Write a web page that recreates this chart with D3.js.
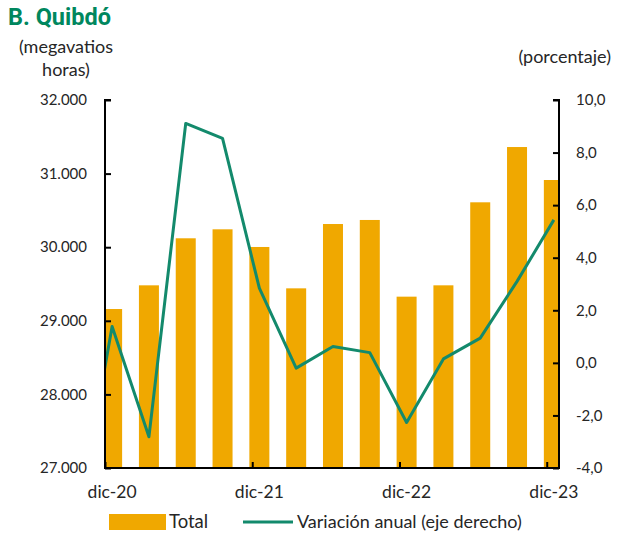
<!DOCTYPE html>
<html>
<head>
<meta charset="utf-8">
<script src="https://cdn.jsdelivr.net/npm/d3@7"></script>
<style>
  html, body { margin: 0; padding: 0; background: #fff; }
  svg { display: block; }
  text { font-family: Lato, "Open Sans", sans-serif; fill: #262626; }
</style>
</head>
<body>
<svg id="chart" width="621" height="536"></svg>
<script>
// ---- data ----
const categories = ["sep-20","dic-20","mar-21","jun-21","sep-21","dic-21","mar-22","jun-22","sep-22","dic-22","mar-23","jun-23","sep-23","dic-23"];
const monthIndex = [-3,0,3,6,9,12,15,18,21,24,27,30,33,36]; // months since dic-20
const totals = [null,29160,29482,30121,30243,30003,29441,30315,30370,29328,29482,30610,31361,30913];
const variation = [-6.5,1.38,-2.81,9.11,8.54,2.84,-0.2,0.62,0.39,-2.27,0.15,0.94,3.1,5.44];
const leftTicks = [27000,28000,29000,30000,31000,32000];
const rightTicks = [-4,-2,0,2,4,6,8,10];
const xTickMonths = [0,12,24,36];
const xTickLabels = ["dic-20","dic-21","dic-22","dic-23"];

const title = "B. Quibdó";
const leftUnit = ["(megavatios","horas)"];
const rightUnit = "(porcentaje)";
const legendLabels = ["Total","Variación anual (eje derecho)"];

const barColor = "#F0A800";
const lineColor = "#138A6C";

// ---- layout ----
const svg = d3.select("#chart");
const L = 105, R = 559, T = 100, B = 468;
const barOffset = 0.58, barW = 20;

const x = d3.scaleLinear().domain([0, 37]).range([L, R]);
const yL = d3.scaleLinear().domain([27000, 32000]).range([B, T]);
const yR = d3.scaleLinear().domain([-4, 10]).range([B, T]);

svg.append("defs").append("clipPath").attr("id","plot")
  .append("rect").attr("x", L).attr("y", 0).attr("width", R - L).attr("height", B);

const plot = svg.append("g").attr("clip-path","url(#plot)");

const data = categories.map((c,i) => ({c, m: monthIndex[i], t: totals[i], v: variation[i]}));

plot.selectAll("rect.bar").data(data.filter(d => d.t != null)).join("rect")
  .attr("class","bar")
  .attr("x", d => x(d.m + barOffset) - barW/2)
  .attr("width", barW)
  .attr("y", d => yL(d.t))
  .attr("height", d => B - yL(d.t))
  .attr("fill", barColor);

plot.append("path").datum(data)
  .attr("fill","none").attr("stroke", lineColor).attr("stroke-width", 3)
  .attr("stroke-linejoin","round")
  .attr("d", d3.line().x(d => x(d.m + barOffset)).y(d => yR(d.v)));

// ---- axes ----
const axL = svg.append("g").attr("transform", `translate(${L},0)`)
  .call(d3.axisRight(yL).tickValues(leftTicks).tickSize(6).tickFormat(() => ""));
const axR = svg.append("g").attr("transform", `translate(${R},0)`)
  .call(d3.axisLeft(yR).tickValues(rightTicks).tickSize(6).tickFormat(() => ""));
const axB = svg.append("g").attr("transform", `translate(0,${B})`)
  .call(d3.axisTop(x).tickValues(xTickMonths).tickSize(6).tickFormat(() => ""));
[axL, axR, axB].forEach(g => {
  g.selectAll("path.domain").attr("stroke","#000").attr("stroke-width",2);
  g.selectAll(".tick line").attr("stroke","#000").attr("stroke-width",2);
});
axL.select("path.domain").attr("d", `M6,${T}H0V${B+1}`);
axR.select("path.domain").attr("d", `M-6,${T}H0V${B+1}`);
axB.select("path.domain").attr("d", `M${L},0H${R}`);

const loc = d3.formatLocale({decimal: ",", thousands: ".", grouping: [3], currency: ["",""], minus: "-"});
const fmtL = loc.format(",.0f");
const fmtR = loc.format(".1f");

svg.append("g").selectAll("text").data(leftTicks).join("text")
  .attr("x", 87).attr("y", d => yL(d)).attr("dy","0.35em")
  .attr("text-anchor","end").attr("font-size", 15).text(d => fmtL(d));
svg.append("g").selectAll("text").data(rightTicks).join("text")
  .attr("x", 576).attr("y", d => yR(d)).attr("dy","0.35em")
  .attr("text-anchor","start").attr("font-size", 15).text(d => fmtR(d));
svg.append("g").selectAll("text").data(xTickMonths).join("text")
  .attr("x", d => x(d + barOffset)).attr("y", 498)
  .attr("text-anchor","middle").attr("font-size", 17.5).text((d,i) => xTickLabels[i]);

// ---- titles ----
svg.append("text").attr("x", 8).attr("y", 25)
  .style("font-family", '"Liberation Sans Narrow", "Roboto", sans-serif')
  .style("font-weight", "bold").style("fill", "#00875E")
  .attr("font-size", 23.5).text(title);
svg.append("text").attr("x", 66).attr("y", 53).attr("text-anchor","middle")
  .attr("font-size", 18).text(leftUnit[0]);
svg.append("text").attr("x", 66).attr("y", 76).attr("text-anchor","middle")
  .attr("font-size", 18).text(leftUnit[1]);
svg.append("text").attr("x", 611).attr("y", 63).attr("text-anchor","end")
  .attr("font-size", 18).text(rightUnit);

// ---- legend ----
const lg = svg.append("g");
lg.append("rect").attr("x",109).attr("y",514).attr("width",57).attr("height",16).attr("fill",barColor);
lg.append("text").attr("x",169).attr("y",528).attr("font-size",18.5).text(legendLabels[0]);
lg.append("line").attr("x1",243).attr("x2",293).attr("y1",522).attr("y2",522)
  .attr("stroke",lineColor).attr("stroke-width",3);
lg.append("text").attr("x",297).attr("y",528).attr("font-size",18).text(legendLabels[1]);
</script>
</body>
</html>
